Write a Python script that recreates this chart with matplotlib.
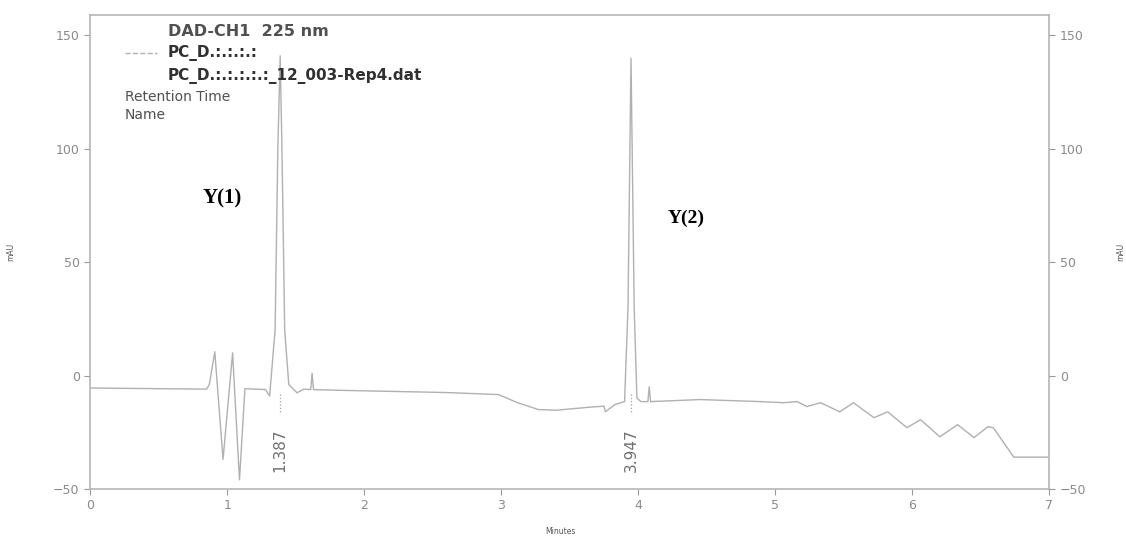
import matplotlib.pyplot as plt

# chromatogram trace (minutes, mAU)
time = [0.0, 0.5, 0.85, 0.87, 0.91, 0.97, 1.04, 1.09, 1.13, 1.20, 1.28, 1.31, 1.35,
        1.37, 1.387, 1.40, 1.42, 1.45, 1.51, 1.56, 1.61, 1.62, 1.63, 1.8, 2.2, 2.6,
        2.98, 3.12, 3.27, 3.40, 3.64, 3.75, 3.76, 3.83, 3.90, 3.925, 3.947, 3.97,
        3.99, 4.02, 4.07, 4.08, 4.09, 4.45, 4.89, 5.06, 5.16, 5.23, 5.33, 5.47,
        5.57, 5.72, 5.82, 5.96, 6.06, 6.20, 6.33, 6.45, 6.55, 6.59, 6.74, 6.99]
mau = [-5.5, -5.8, -6.0, -4.0, 10.5, -37.0, 10.0, -46.0, -5.8, -6.0, -6.2, -9.0, 20.0,
       100.0, 141.0, 100.0, 20.0, -4.0, -7.6, -6.0, -6.2, 1.0, -6.2, -6.5, -7.0, -7.5,
       -8.4, -12.0, -15.0, -15.3, -14.0, -13.5, -16.0, -12.8, -11.5, 30.0, 140.0, 30.0,
       -10.0, -11.5, -11.5, -5.0, -11.5, -10.6, -11.5, -12.0, -11.5, -13.7, -12.0, -16.0,
       -12.0, -18.6, -16.0, -23.0, -19.5, -27.0, -21.7, -27.4, -22.6, -23.0, -36.0, -36.0]

peak_times = [1.387, 3.947]
peak_labels = ['1.387', '3.947']
yticks = [-50, 0, 50, 100, 150]
xticks = [0, 1, 2, 3, 4, 5, 6, 7]

grey = '#9a9a9a'
txt = '#8a8a8a'

fig = plt.figure(figsize=(11.26, 5.39), dpi=100)
ax = fig.add_axes([0.080, 0.093, 0.852, 0.879])
ax.plot(time, mau, color='#b0b0b0', lw=1.0)

# dotted drop lines under the peaks, plus rotated retention times
for t, lab in zip(peak_times, peak_labels):
    ax.plot([t, t], [-8, -17], color='#a0a0a0', lw=0.9, ls=':')
    ax.text(t, -33, lab, rotation=90, ha='center', va='center', fontsize=11, color='#707070')

ax.set_xlim(0, 7)
ax.set_ylim(-50, 159)
ax.set_xticks(xticks)
ax.set_yticks(yticks)
ax.tick_params(colors=grey, labelcolor=txt, labelsize=9, length=4)
for s in ax.spines.values():
    s.set_color('#b5b5b5')
    s.set_linewidth(1.2)

ax2 = ax.twinx()
ax2.set_ylim(-50, 159)
ax2.set_yticks(yticks)
ax2.tick_params(colors=grey, labelcolor=txt, labelsize=9, length=4)
for s in ax2.spines.values():
    s.set_visible(False)

ax.set_xlabel('Minutes', fontsize=5.5, color='#555555')
ax.xaxis.set_label_coords(0.49, -0.08)
ax.set_ylabel('mAU', fontsize=5.5, color='#555555')
ax.yaxis.set_label_coords(-0.078, 0.5)
ax2.set_ylabel('mAU', fontsize=5.5, color='#555555')
ax2.yaxis.set_label_coords(1.07, 0.5)

# header block of the instrument printout
fig.text(168 / 1126, 1 - 32 / 539, 'DAD-CH1  225 nm', fontsize=11.5, color='#505050',
         fontweight='bold', va='center')
fig.add_artist(plt.Line2D([125 / 1126, 157 / 1126], [1 - 53 / 539, 1 - 53 / 539],
                          color='#b0b0b0', lw=1, ls='--'))
fig.text(168 / 1126, 1 - 53 / 539, 'PC_D.:.:.:.:', fontsize=11, color='#303030',
         fontweight='bold', va='center')
fig.text(168 / 1126, 1 - 76 / 539, 'PC_D.:.:.:.:.:_12_003-Rep4.dat', fontsize=11, color='#303030',
         fontweight='bold', va='center')
fig.text(125 / 1126, 1 - 97 / 539, 'Retention Time', fontsize=10, color='#505050', va='center')
fig.text(125 / 1126, 1 - 115 / 539, 'Name', fontsize=10, color='#505050', va='center')

fig.text(203 / 1126, 1 - 198 / 539, 'Y(1)', fontsize=15, fontweight='bold',
         family='Liberation Serif', va='center')
fig.text(668 / 1126, 1 - 218 / 539, 'Y(2)', fontsize=14, fontweight='bold',
         family='Liberation Serif', va='center')

fig.savefig('out.png', dpi=100)
